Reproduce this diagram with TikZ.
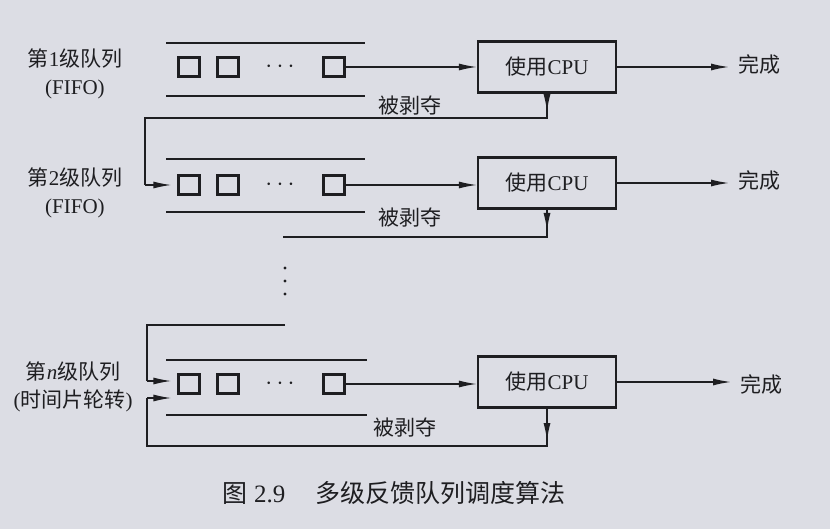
\documentclass[tikz,border=0pt]{standalone}
\usepackage{fontspec}
\setmainfont{Liberation Serif}
\newfontfamily\cjk{Noto Sans CJK SC}
\usepackage{tikz}
\usetikzlibrary{arrows.meta,positioning}
\definecolor{paper}{RGB}{220,221,228}
\definecolor{ink}{RGB}{30,30,33}
\newcommand\zh[1]{{\cjk #1}}

\tikzset{
  slot/.style={draw=ink,line width=2.2pt,minimum width=21pt,minimum height=19pt,inner sep=0pt},
  cpubox/.style={draw=ink,line width=2.2pt,minimum width=138pt,minimum height=51pt,inner sep=0pt,text=ink,font=\fontsize{21}{25}\selectfont},
  qline/.style={draw=ink,line width=1.4pt},
  arr/.style={qline,-{Latex[length=18pt,width=7pt]}},
  lab/.style={text=ink,font=\fontsize{21}{28}\selectfont,align=center,inner sep=0pt},
  dotsy/.style={text=ink,font=\fontsize{26}{28}\selectfont,inner sep=0pt},
}

\begin{document}
\begin{tikzpicture}[x=1pt,y=-1pt]
\fill[paper] (0,0) rectangle (830,529);
\useasboundingbox (0,0) rectangle (830,529);

% queue 1
\node[lab] (q1) at (75,74) {\zh{第}1\zh{级队列}\\(FIFO)};
\draw[qline] (166,43) -- (365,43);
\draw[qline] (166,96) -- (365,96);
\node[slot] (b11) at (189,67) {};
\node[slot] (b12) at (228,67) {};
\node[dotsy] (d1) at (280,67) {$\cdots$};
\node[slot] (b13) at (334,67) {};
\node[cpubox] (cpu1) at (547,67) {\zh{使用}CPU};
\node[lab,anchor=west] (done1) at (738,65) {\zh{完成}};
\draw[arr] (b13.east) -- (cpu1.west);
\draw[arr,shorten >=9pt] (cpu1.east) -- (cpu1.east -| done1.west);
\node[lab] (p1) at (410,106) {\zh{被剥夺}};
\coordinate (f1) at (547,118);
\coordinate (t2) at (145,185);
\draw[arr] (cpu1.south) -- ([yshift=6pt]f1);
\draw[qline] (cpu1.south) -- (f1) -| (t2);

% queue 2
\node[lab] (q2) at (75,193) {\zh{第}2\zh{级队列}\\(FIFO)};
\draw[qline] (166,159) -- (365,159);
\draw[qline] (166,212) -- (365,212);
\node[slot] (b21) at (189,185) {};
\node[slot] (b22) at (228,185) {};
\node[dotsy] (d2) at (280,185) {$\cdots$};
\node[slot] (b23) at (334,185) {};
\node[cpubox] (cpu2) at (547,183) {\zh{使用}CPU};
\node[lab,anchor=west] (done2) at (738,181) {\zh{完成}};
\draw[arr] (t2) -- ([xshift=-6pt]b21.west);
\draw[arr] (b23.east) -- (b23.east -| cpu2.west);
\draw[arr,shorten >=9pt] (cpu2.east) -- (cpu2.east -| done2.west);
\node[lab] (p2) at (410,218) {\zh{被剥夺}};
\coordinate (f2) at (547,237);
\coordinate (e2) at (283,237);
\draw[arr] (cpu2.south) -- ([yshift=6pt]f2);
\draw[qline] (cpu2.south) -- (f2) -- (e2);

% dots between levels
\foreach \y in {268,281,294}
  \fill[ink] (285,\y) circle (1.6);

% queue n
\node[lab] (qn) at (73,387) {\zh{第}\textit{n}\zh{级队列}\\(\zh{时间片轮转})};
\coordinate (en) at (285,325);
\coordinate (tn) at (147,381);
\draw[qline] (en) -| (tn);
\draw[qline] (166,360) -- (367,360);
\draw[qline] (166,415) -- (367,415);
\node[slot] (bn1) at (189,384) {};
\node[slot] (bn2) at (228,384) {};
\node[dotsy] (dn) at (280,384) {$\cdots$};
\node[slot] (bn3) at (334,384) {};
\node[cpubox] (cpun) at (547,382) {\zh{使用}CPU};
\node[lab,anchor=west] (donen) at (740,384) {\zh{完成}};
\draw[arr] (tn) -- ([xshift=-6pt,yshift=3pt]bn1.west);
\draw[arr] (bn3.east) -- (bn3.east -| cpun.west);
\draw[arr,shorten >=9pt] (cpun.east) -- (cpun.east -| donen.west);
\node[lab] (pn) at (405,428) {\zh{被剥夺}};
\coordinate (fn) at (547,446);
\coordinate (un) at (147,398);
\draw[arr] (cpun.south) -- ([yshift=5pt]fn);
\draw[qline] (cpun.south) -- (fn) -| (un);
\draw[arr] (un) -- ([xshift=-6pt,yshift=-14pt]bn1.west);

% caption
\node[text=ink,font=\fontsize{25}{30}\selectfont,inner sep=0pt] (cap) at (394,493)
  {\zh{图} 2.9\hspace{30pt}\zh{多级反馈队列调度算法}};
\end{tikzpicture}
\end{document}
